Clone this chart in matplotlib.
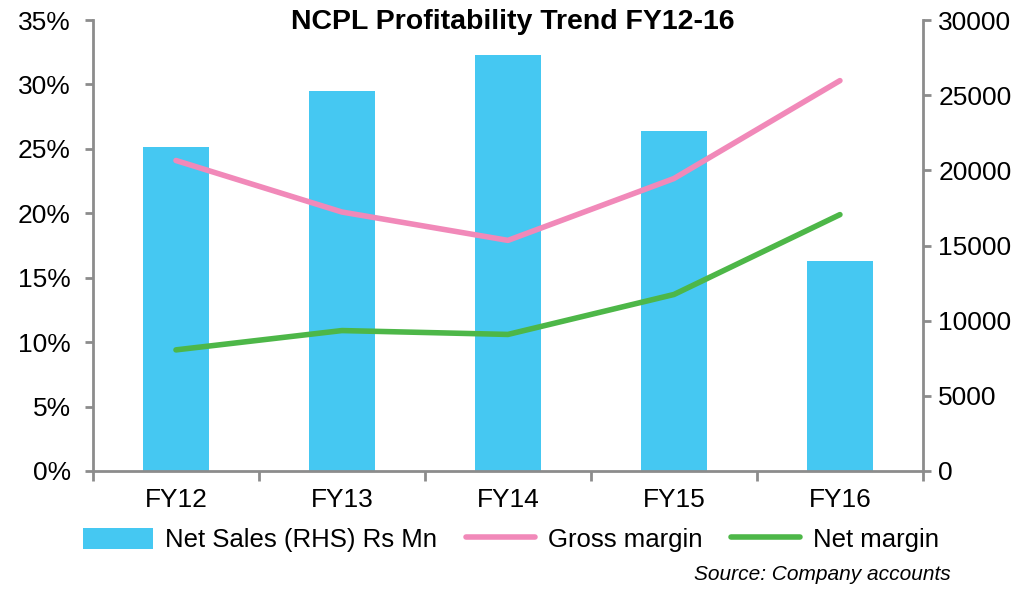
import matplotlib.pyplot as plt
from matplotlib.ticker import FuncFormatter

years = ['FY12', 'FY13', 'FY14', 'FY15', 'FY16']
net_sales = [21550, 25300, 27700, 22600, 14000]
gross_margin = [24.1, 20.1, 17.9, 22.7, 30.3]
net_margin = [9.4, 10.9, 10.6, 13.7, 19.9]

bar_color = '#45C8F2'
pink = '#F189B9'
green = '#4DB748'
axis_grey = '#8C8C8C'

plt.rcParams['font.family'] = ['Liberation Sans', 'DejaVu Sans']

fig = plt.figure(figsize=(10.24, 5.9), dpi=100)
ax = fig.add_axes([0.0908, 0.2017, 0.8105, 0.7643])
ax2 = ax.twinx()

x = list(range(len(years)))
bars = ax2.bar(x, net_sales, width=0.4, color=bar_color, label='Net Sales (RHS) Rs Mn')
ax.set_zorder(ax2.get_zorder() + 1)
ax.patch.set_visible(False)
l1, = ax.plot(x, gross_margin, color=pink, lw=4, solid_capstyle='round', label='Gross margin')
l2, = ax.plot(x, net_margin, color=green, lw=4, solid_capstyle='round', label='Net margin')

ax.set_xlim(-0.5, 4.5)
ax.set_ylim(0, 35)
ax2.set_ylim(0, 30000)
ax.set_yticks(range(0, 36, 5))
ax.yaxis.set_major_formatter(FuncFormatter(lambda v, p: f'{int(v)}%'))
ax2.set_yticks(range(0, 30001, 5000))

ax.set_xticks([i + 0.5 for i in range(-1, 5)])
ax.set_xticklabels([])
ax.set_xticks(x, minor=True)
ax.set_xticklabels(years, minor=True)
ax.tick_params(axis='x', which='minor', length=0, pad=12, labelsize=19)
ax.tick_params(axis='x', which='major', length=7, width=2, color=axis_grey)

for a in (ax, ax2):
    a.spines['top'].set_visible(False)
    for s in ('left', 'right', 'bottom'):
        a.spines[s].set_color(axis_grey)
        a.spines[s].set_linewidth(2)
ax.spines['right'].set_visible(False)
ax2.spines['left'].set_visible(False)
ax2.spines['bottom'].set_visible(False)
ax.tick_params(axis='y', length=6, width=2, color=axis_grey, labelsize=19, pad=10)
ax2.tick_params(axis='y', length=6, width=2, color=axis_grey, labelsize=19, pad=5)

fig.text(0.501, 0.962, 'NCPL Profitability Trend FY12-16', ha='center', va='center',
         fontsize=20.5, fontweight='bold')

fig.legend([bars, l1, l2], [bars.get_label(), l1.get_label(), l2.get_label()],
           loc='center', bbox_to_anchor=(0.499, 0.085), ncol=3, frameon=False,
           fontsize=18.5, handlelength=2.7, handleheight=0.9, columnspacing=1.1, handletextpad=0.5)

fig.text(0.928, 0.027, 'Source: Company accounts', ha='right', va='center',
         fontsize=15, style='italic')

fig.savefig('out.png', dpi=100)
